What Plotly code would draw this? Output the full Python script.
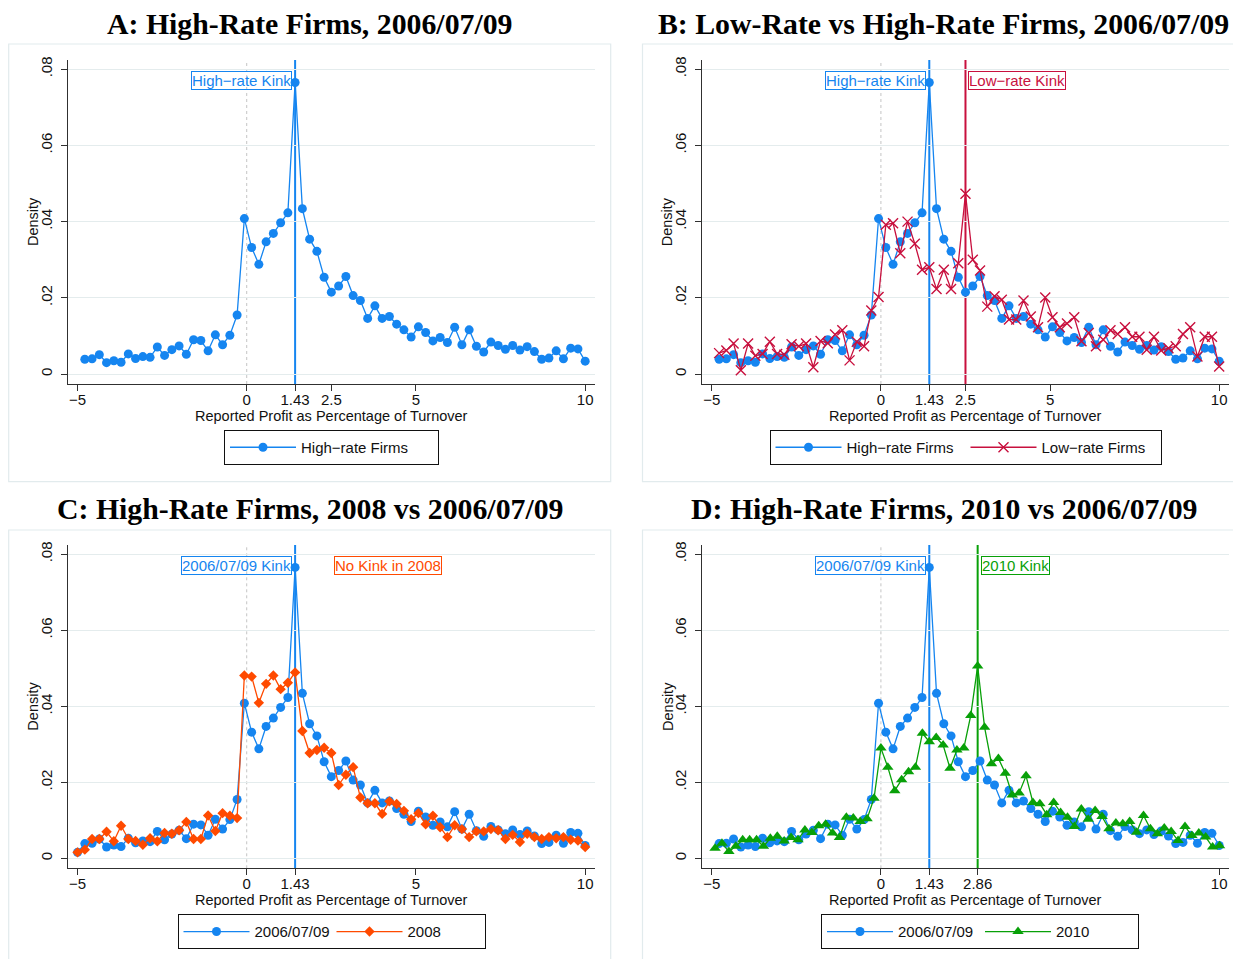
import plotly.graph_objects as go

W, H = 1233, 959

# ---------------- data ----------------
# bin centres (percent of turnover), high-rate grid (one bin centred on the 1.43 kink)
bins_high = [-4.998, -4.783, -4.569, -4.355, -4.141, -3.926, -3.712, -3.498, -3.284, -3.069,
             -2.855, -2.641, -2.427, -2.212, -1.998, -1.784, -1.570, -1.355, -1.141, -0.927,
             -0.713, -0.498, -0.284, -0.070, 0.145, 0.359, 0.573, 0.787, 1.002, 1.216,
             1.430, 1.644, 1.859, 2.073, 2.287, 2.500, 2.716, 2.930, 3.144, 3.358,
             3.573, 3.787, 4.001, 4.215, 4.430, 4.644, 4.858, 5.072, 5.287, 5.501,
             5.715, 5.929, 6.144, 6.358, 6.572, 6.786, 7.001, 7.215, 7.429, 7.643,
             7.858, 8.072, 8.286, 8.500, 8.715, 8.929, 9.143, 9.357, 9.572, 9.786,
             10.000]

# bin centres for 2010 (one bin centred on the 2.86 kink)
bins_2010 = [-4.903, -4.699, -4.494, -4.290, -4.086, -3.881, -3.677, -3.473, -3.269, -3.064,
             -2.860, -2.656, -2.451, -2.247, -2.043, -1.839, -1.634, -1.430, -1.226, -1.021,
             -0.817, -0.613, -0.409, -0.204, 0.000, 0.204, 0.409, 0.613, 0.817, 1.021,
             1.226, 1.430, 1.634, 1.839, 2.043, 2.247, 2.451, 2.656, 2.860, 3.064,
             3.269, 3.473, 3.677, 3.881, 4.086, 4.290, 4.494, 4.699, 4.903, 5.107,
             5.311, 5.516, 5.720, 5.924, 6.129, 6.333, 6.537, 6.741, 6.946, 7.150,
             7.354, 7.559, 7.763, 7.967, 8.171, 8.376, 8.580, 8.784, 8.989, 9.193,
             9.397, 9.601, 9.806, 10.010]

# High-rate firms 2006/07/09 (bins_high[1:])
high_0609 = [0.0039, 0.0040, 0.0051, 0.0030, 0.0035, 0.0031, 0.0053, 0.0041, 0.0046, 0.0044,
             0.0071, 0.0049, 0.0064, 0.0074, 0.0052, 0.0090, 0.0088, 0.0061, 0.0103, 0.0077,
             0.0102, 0.0155, 0.0408, 0.0332, 0.0288, 0.0347, 0.0369, 0.0397, 0.0423, 0.0765,
             0.0434, 0.0354, 0.0322, 0.0254, 0.0215, 0.0231, 0.0256, 0.0206, 0.0193, 0.0146,
             0.0179, 0.0146, 0.0151, 0.0131, 0.0116, 0.0097, 0.0124, 0.0109, 0.0087, 0.0096,
             0.0083, 0.0123, 0.0077, 0.0116, 0.0073, 0.0058, 0.0084, 0.0075, 0.0065, 0.0075,
             0.0063, 0.0072, 0.0059, 0.0039, 0.0042, 0.0061, 0.0040, 0.0068, 0.0066, 0.0034]
# extra bin at -5 shown in panel C
high_0609_first_bin = 0.0016

# Low-rate firms 2006/07/09 (bins_high[1:])
low_0609 = [0.0055, 0.0062, 0.0080, 0.0010, 0.0080, 0.0048, 0.0053, 0.0085, 0.0053, 0.0051,
            0.0078, 0.0073, 0.0080, 0.0018, 0.0087, 0.0081, 0.0104, 0.0115, 0.0036, 0.0085,
            0.0073, 0.0167, 0.0202, 0.0392, 0.0396, 0.0317, 0.0400, 0.0342, 0.0274, 0.0280,
            0.0223, 0.0274, 0.0223, 0.0291, 0.0473, 0.0300, 0.0272, 0.0177, 0.0204, 0.0195,
            0.0143, 0.0143, 0.0193, 0.0151, 0.0123, 0.0201, 0.0149, 0.0123, 0.0133, 0.0149,
            0.0086, 0.0108, 0.0073, 0.0090, 0.0115, 0.0105, 0.0123, 0.0098, 0.0098, 0.0064,
            0.0098, 0.0062, 0.0068, 0.0073, 0.0105, 0.0123, 0.0046, 0.0098, 0.0098, 0.0020]

# High-rate firms 2008 (bins_high)
high_2008 = [0.0016, 0.0023, 0.0051, 0.0051, 0.0070, 0.0045, 0.0086, 0.0051, 0.0046, 0.0036,
             0.0053, 0.0045, 0.0067, 0.0065, 0.0074, 0.0096, 0.0051, 0.0051, 0.0113, 0.0072,
             0.0119, 0.0112, 0.0106, 0.0481, 0.0478, 0.0409, 0.0459, 0.0481, 0.0445, 0.0462,
             0.0489, 0.0335, 0.0277, 0.0285, 0.0291, 0.0277, 0.0193, 0.0220, 0.0240, 0.0160,
             0.0145, 0.0145, 0.0117, 0.0150, 0.0143, 0.0125, 0.0103, 0.0119, 0.0090, 0.0112,
             0.0082, 0.0056, 0.0087, 0.0077, 0.0056, 0.0071, 0.0071, 0.0077, 0.0074, 0.0051,
             0.0062, 0.0043, 0.0065, 0.0056, 0.0051, 0.0056, 0.0053, 0.0056, 0.0049, 0.0047,
             0.0030]

# High-rate firms 2010 (bins_2010)
high_2010 = [0.0027, 0.0040, 0.0018, 0.0032, 0.0049, 0.0049, 0.0049, 0.0032, 0.0053, 0.0058,
             0.0046, 0.0055, 0.0049, 0.0075, 0.0068, 0.0086, 0.0090, 0.0067, 0.0055, 0.0108,
             0.0106, 0.0097, 0.0104, 0.0158, 0.0290, 0.0240, 0.0178, 0.0207, 0.0228, 0.0240,
             0.0329, 0.0307, 0.0318, 0.0298, 0.0237, 0.0285, 0.0290, 0.0376, 0.0506, 0.0345,
             0.0249, 0.0263, 0.0224, 0.0167, 0.0172, 0.0217, 0.0147, 0.0144, 0.0115, 0.0147,
             0.0121, 0.0108, 0.0084, 0.0130, 0.0103, 0.0126, 0.0110, 0.0078, 0.0093, 0.0091,
             0.0097, 0.0069, 0.0113, 0.0078, 0.0065, 0.0080, 0.0071, 0.0047, 0.0084, 0.0060,
             0.0067, 0.0056, 0.0030, 0.0033]

kink_high = 1.43
kink_low = 2.5
kink_2010 = 2.86
kink_value = 0.0769

xticks_ab = [-5, 0, 1.43, 2.5, 5, 10]
xticks_c = [-5, 0, 1.43, 5, 10]
xticks_d = [-5, 0, 1.43, 2.86, 10]
yticks = [0, 0.02, 0.04, 0.06, 0.08]
ytick_text = ["0", ".02", ".04", ".06", ".08"]

titles = ["A: High-Rate Firms, 2006/07/09",
          "B: Low-Rate vs High-Rate Firms, 2006/07/09",
          "C: High-Rate Firms, 2008 vs 2006/07/09",
          "D: High-Rate Firms, 2010 vs 2006/07/09"]
x_title = "Reported Profit as Percentage of Turnover"
y_title = "Density"

# ---------------- style ----------------
BLUE = "#1585f0"
RED = "#c8103e"
ORANGE = "#ff4a00"
GREEN = "#08a008"
GRID = "#e4eced"
BOXC = "#e2ebed"
AX = "#303030"
SANS = "Liberation Sans"
SERIF = "Liberation Serif"


def px(x):
    return x / W


def py(y):
    return 1 - y / H


def tick_label(v):
    if v < 0:
        return "\u2212" + f"{abs(v):g}"
    return f"{v:g}"


fig = go.Figure()

# panels: (axis suffix, plot left px, plot right px, top px, bottom px, xticks,
#          legend centre px, legend entry width)
panels = [
    ("", 68, 595, 60, 384, xticks_ab, 331.5, 132),
    ("2", 702.3, 1229, 60, 384, xticks_ab, 965.5, 114),
    ("3", 68, 595, 545, 868.3, xticks_c, 331.5, 72),
    ("4", 702.3, 1229, 545, 868.3, xticks_d, 980, 77),
]

legend_names = ["legend", "legend2", "legend3", "legend4"]


def add_series(i, x, y, name, color, symbol, size, lw=1.3, mline=0):
    sfx = panels[i][0]
    fig.add_trace(go.Scatter(
        x=x, y=y, name=name, mode="lines+markers",
        xaxis="x" + sfx, yaxis="y" + sfx, legend=legend_names[i],
        line=dict(color=color, width=lw),
        marker=dict(color=color, symbol=symbol, size=size,
                    line=dict(color=color, width=mline)),
        showlegend=True,
    ))


# A
add_series(0, bins_high[1:], high_0609, "High\u2212rate Firms", BLUE, "circle", 9)
# B
add_series(1, bins_high[1:], high_0609, "High\u2212rate Firms", BLUE, "circle", 9)
add_series(1, bins_high[1:], low_0609, "Low\u2212rate Firms", RED, "x-thin", 10, mline=1.4)
# C
add_series(2, bins_high, [high_0609_first_bin] + high_0609, "2006/07/09", BLUE, "circle", 9)
add_series(2, bins_high, high_2008, "2008", ORANGE, "diamond", 8)
# D
add_series(3, bins_high[1:], high_0609, "2006/07/09", BLUE, "circle", 9)
add_series(3, bins_2010, high_2010, "2010", GREEN, "triangle-up", 10)

layout = dict(
    width=W, height=H, margin=dict(l=0, r=0, t=0, b=0),
    paper_bgcolor="white", plot_bgcolor="white",
    template="none",
    font=dict(family=SANS, size=15, color="#111"),
    showlegend=True,
)

shapes = []
annotations = []

for i, (sfx, l, r, t, b, xt, lc, ew) in enumerate(panels):
    layout["xaxis" + sfx] = dict(
        domain=[px(l), px(r)], range=[-5.28, 10.29], anchor="y" + sfx,
        tickmode="array", tickvals=xt, ticktext=[tick_label(v) for v in xt],
        ticks="outside", ticklen=6, tickwidth=1.2, tickcolor=AX,
        showline=True, linecolor=AX, linewidth=1.2,
        showgrid=False, zeroline=False,
        tickfont=dict(family=SANS, size=15, color="#111"),
        ticklabelstandoff=-4,
        automargin=False,
    )
    layout["yaxis" + sfx] = dict(
        domain=[py(b), py(t)], range=[-0.0026, 0.0824], anchor="x" + sfx,
        tickmode="array", tickvals=yticks, ticktext=ytick_text, tickangle=-90,
        ticks="outside", ticklen=6, tickwidth=1.2, tickcolor=AX,
        showline=True, linecolor=AX, linewidth=1.2,
        showgrid=True, gridcolor=GRID, gridwidth=1.2, zeroline=False,
        tickfont=dict(family=SANS, size=15, color="#111"),
        ticklabelstandoff=3,
        automargin=False,
    )
    # axis titles
    annotations.append(dict(
        x=px((l + r) / 2), y=py(b + 32), xref="paper", yref="paper", text=x_title,
        showarrow=False, xanchor="center", yanchor="middle",
        font=dict(family=SANS, size=14.5, color="#111")))
    annotations.append(dict(
        x=px(l - 35), y=py((t + b) / 2), xref="paper", yref="paper", text=y_title,
        showarrow=False, xanchor="center", yanchor="middle", textangle=-90,
        font=dict(family=SANS, size=14.5, color="#111")))
    # dotted line at zero
    shapes.append(dict(type="line", xref="x" + sfx, yref="y" + sfx + " domain",
                       x0=0, x1=0, y0=0, y1=1, layer="below",
                       line=dict(color="#c4c4c4", width=1, dash="dot")))
    # legend
    legname = legend_names[i]
    layout[legname] = dict(
        x=px(lc), xanchor="center", y=py(b + 46), yanchor="top",
        orientation="h", bordercolor="#111", borderwidth=1, bgcolor="white",
        itemwidth=66, entrywidth=ew, entrywidthmode="pixels",
        font=dict(family=SANS, size=15, color="#111"),
    )

# panel frames
frames = [(8.7, 610.7, 44, 481.7), (642.5, 1250, 44, 481.7),
          (8.7, 610.7, 530, 970), (642.5, 1250, 530, 970)]
for x0, x1, y0, y1 in frames:
    shapes.append(dict(type="rect", xref="paper", yref="paper",
                       x0=px(x0), x1=px(x1), y0=py(y1), y1=py(y0),
                       line=dict(color=BOXC, width=1.2), layer="below"))


# kink lines
def vline(sfx, xv, color):
    shapes.append(dict(type="line", xref="x" + sfx, yref="y" + sfx + " domain",
                       x0=xv, x1=xv, y0=0, y1=1, layer="below",
                       line=dict(color=color, width=2)))


vline("", kink_high, BLUE)
vline("2", kink_high, BLUE)
vline("2", kink_low, RED)
vline("3", kink_high, BLUE)
vline("4", kink_high, BLUE)
vline("4", kink_2010, GREEN)


def label(sfx, xv, text, color, side):
    annotations.append(dict(
        x=xv, y=kink_value, xref="x" + sfx, yref="y" + sfx, text=text,
        showarrow=False, xanchor="right" if side == "left" else "left",
        yanchor="middle", xshift=-3 if side == "left" else 3,
        font=dict(family=SANS, size=15, color=color),
        bordercolor=color, borderwidth=1, borderpad=0))


label("", kink_high, "High\u2212rate Kink", BLUE, "left")
label("2", kink_high, "High\u2212rate Kink", BLUE, "left")
label("2", kink_low, "Low\u2212rate Kink", RED, "right")
label("3", kink_high, "2006/07/09 Kink", BLUE, "left")
label("3", kink_low, "No Kink in 2008", ORANGE, "right")
label("4", kink_high, "2006/07/09 Kink", BLUE, "left")
label("4", kink_2010, "2010 Kink", GREEN, "right")

# panel titles
title_pos = [(310, 42), (943.5, 42), (310, 527), (944, 527)]
for text, (cx, yb) in zip(titles, title_pos):
    annotations.append(dict(
        x=px(cx), y=py(yb), xref="paper", yref="paper", text=text,
        showarrow=False, xanchor="center", yanchor="bottom",
        font=dict(family=SERIF, size=29.8, color="#000", weight="bold")))

layout["shapes"] = shapes
layout["annotations"] = annotations
fig.update_layout(**layout)

fig.write_html("out.html",
               config={"displayModeBar": False},
               post_script="document.body.style.margin='0px';"
                           "document.body.style.overflow='hidden';")
